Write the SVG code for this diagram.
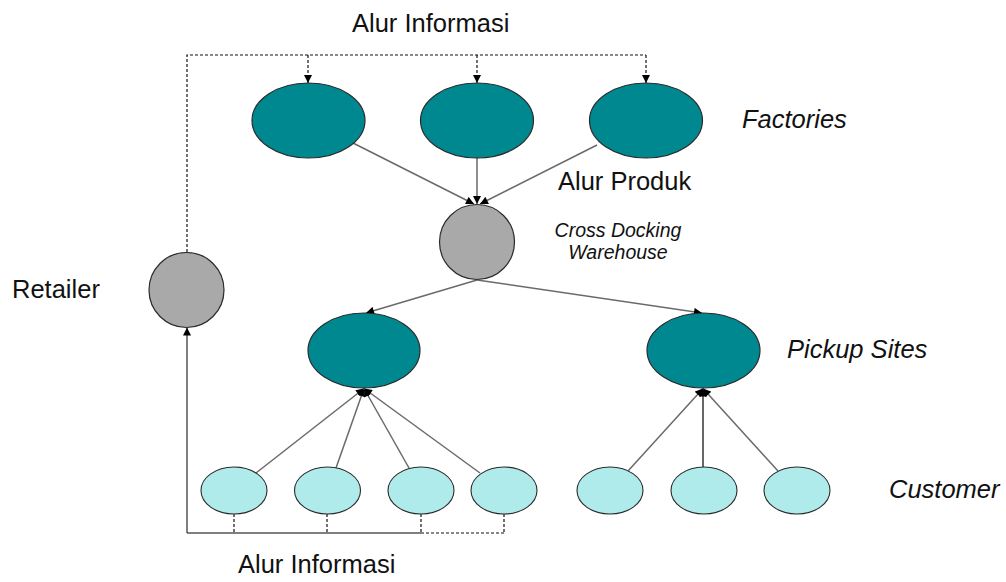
<svg xmlns="http://www.w3.org/2000/svg" width="1006" height="582" viewBox="0 0 1006 582">
  <style>
    .factory { fill: #008891; stroke: #2a2a2a; stroke-width: 1.2; }
    .hub { fill: #a9a9a9; stroke: #2a2a2a; stroke-width: 1.2; }
    .pickup { fill: #008891; stroke: #2a2a2a; stroke-width: 1.2; }
    .cust { fill: #b0ebeb; stroke: #2a2a2a; stroke-width: 1.1; }
    .flow { fill: none; stroke: #6a6a6a; stroke-width: 1.5; }
    .info { fill: none; stroke: #111; stroke-width: 1.2; stroke-dasharray: 3 2; }
    .infosolid { fill: none; stroke: #555; stroke-width: 1.5; }
    .lbl { font-family: "Liberation Sans", Arial, sans-serif; font-size: 25.5px; fill: #111; }
    .it { font-style: italic; }
    .small { font-size: 19.5px; }
  </style>
  <defs>
    <marker id="arr" viewBox="0 0 10 10" refX="10" refY="5" markerWidth="9" markerHeight="8" markerUnits="userSpaceOnUse" orient="auto">
      <path d="M0,0 L10,5 L0,10 Z" fill="#000"/>
    </marker>
  </defs>

  <!-- connectors -->
  <g id="connectors">
    <!-- information flow, top -->
    <path class="info" d="M187,252 V55 H646"/>
    <path class="info" d="M308,55 V83" marker-end="url(#arr)"/>
    <path class="info" d="M477,55 V83" marker-end="url(#arr)"/>
    <path class="info" d="M646,55 V83" marker-end="url(#arr)"/>
    <!-- information flow, bottom -->
    <path class="infosolid" d="M187,533 V327.5" marker-end="url(#arr)"/>
    <path class="infosolid" d="M187,533 H421"/>
    <path class="info" d="M421,533 H504"/>
    <path class="info" d="M234,514 V533"/>
    <path class="info" d="M327,514 V533"/>
    <path class="info" d="M421,514 V533"/>
    <path class="info" d="M504,514 V533"/>
    <!-- product flow -->
    <path class="flow" d="M353,143 L474,204" marker-end="url(#arr)"/>
    <path class="flow" d="M477,158 L477,204" marker-end="url(#arr)"/>
    <path class="flow" d="M597,145 L480,204" marker-end="url(#arr)"/>
    <path class="flow" d="M477,280 L366,313" marker-end="url(#arr)"/>
    <path class="flow" d="M477,280 L702,313" marker-end="url(#arr)"/>
    <!-- customers to pickup sites -->
    <path class="flow" d="M256,473 L364,388.5" marker-end="url(#arr)"/>
    <path class="flow" d="M336,468 L364,388.5" marker-end="url(#arr)"/>
    <path class="flow" d="M409,468 L364,388.5" marker-end="url(#arr)"/>
    <path class="flow" d="M480,473 L364,388.5" marker-end="url(#arr)"/>
    <path class="flow" d="M628,471 L703,388.5" marker-end="url(#arr)"/>
    <path class="flow" d="M703,467 L703,388.5" style="stroke:#000;stroke-width:1.2" marker-end="url(#arr)"/>
    <path class="flow" d="M778,471 L703,388.5" marker-end="url(#arr)"/>
  </g>

  <!-- factories -->
  <g id="factory-1"><ellipse class="factory" cx="308.5" cy="120.5" rx="56.5" ry="37.5"/></g>
  <g id="factory-2"><ellipse class="factory" cx="477" cy="120.5" rx="56.5" ry="37.5"/></g>
  <g id="factory-3"><ellipse class="factory" cx="646" cy="120.5" rx="56.5" ry="37.5"/></g>

  <!-- cross docking warehouse -->
  <g id="warehouse"><circle class="hub" cx="477" cy="242" r="37.5"/></g>

  <!-- retailer -->
  <g id="retailer"><circle class="hub" cx="186.5" cy="290" r="37.5"/></g>

  <!-- pickup sites -->
  <g id="pickup-1"><ellipse class="pickup" cx="364" cy="350.5" rx="56" ry="37.5"/></g>
  <g id="pickup-2"><ellipse class="pickup" cx="703.5" cy="350.5" rx="56.5" ry="37.5"/></g>

  <!-- customers -->
  <g id="customer-1"><ellipse class="cust" cx="234" cy="490.5" rx="33" ry="23.5"/></g>
  <g id="customer-2"><ellipse class="cust" cx="327.5" cy="490.5" rx="33" ry="23.5"/></g>
  <g id="customer-3"><ellipse class="cust" cx="421" cy="490.5" rx="33" ry="23.5"/></g>
  <g id="customer-4"><ellipse class="cust" cx="504" cy="490.5" rx="33" ry="23.5"/></g>
  <g id="customer-5"><ellipse class="cust" cx="610" cy="490.5" rx="33" ry="23.5"/></g>
  <g id="customer-6"><ellipse class="cust" cx="704" cy="490.5" rx="33" ry="23.5"/></g>
  <g id="customer-7"><ellipse class="cust" cx="797" cy="490.5" rx="33" ry="23.5"/></g>

  <!-- labels -->
  <g id="labels">
    <text class="lbl" x="352" y="32">Alur Informasi</text>
    <text class="lbl it" x="742" y="128">Factories</text>
    <text class="lbl" x="558" y="190">Alur Produk</text>
    <text class="lbl it small" x="618" y="237" text-anchor="middle">Cross Docking</text>
    <text class="lbl it small" x="618" y="259" text-anchor="middle">Warehouse</text>
    <text class="lbl" x="12" y="298">Retailer</text>
    <text class="lbl it" x="787" y="358">Pickup Sites</text>
    <text class="lbl it" x="889" y="498">Customer</text>
    <text class="lbl" x="238" y="573">Alur Informasi</text>
  </g>
</svg>
